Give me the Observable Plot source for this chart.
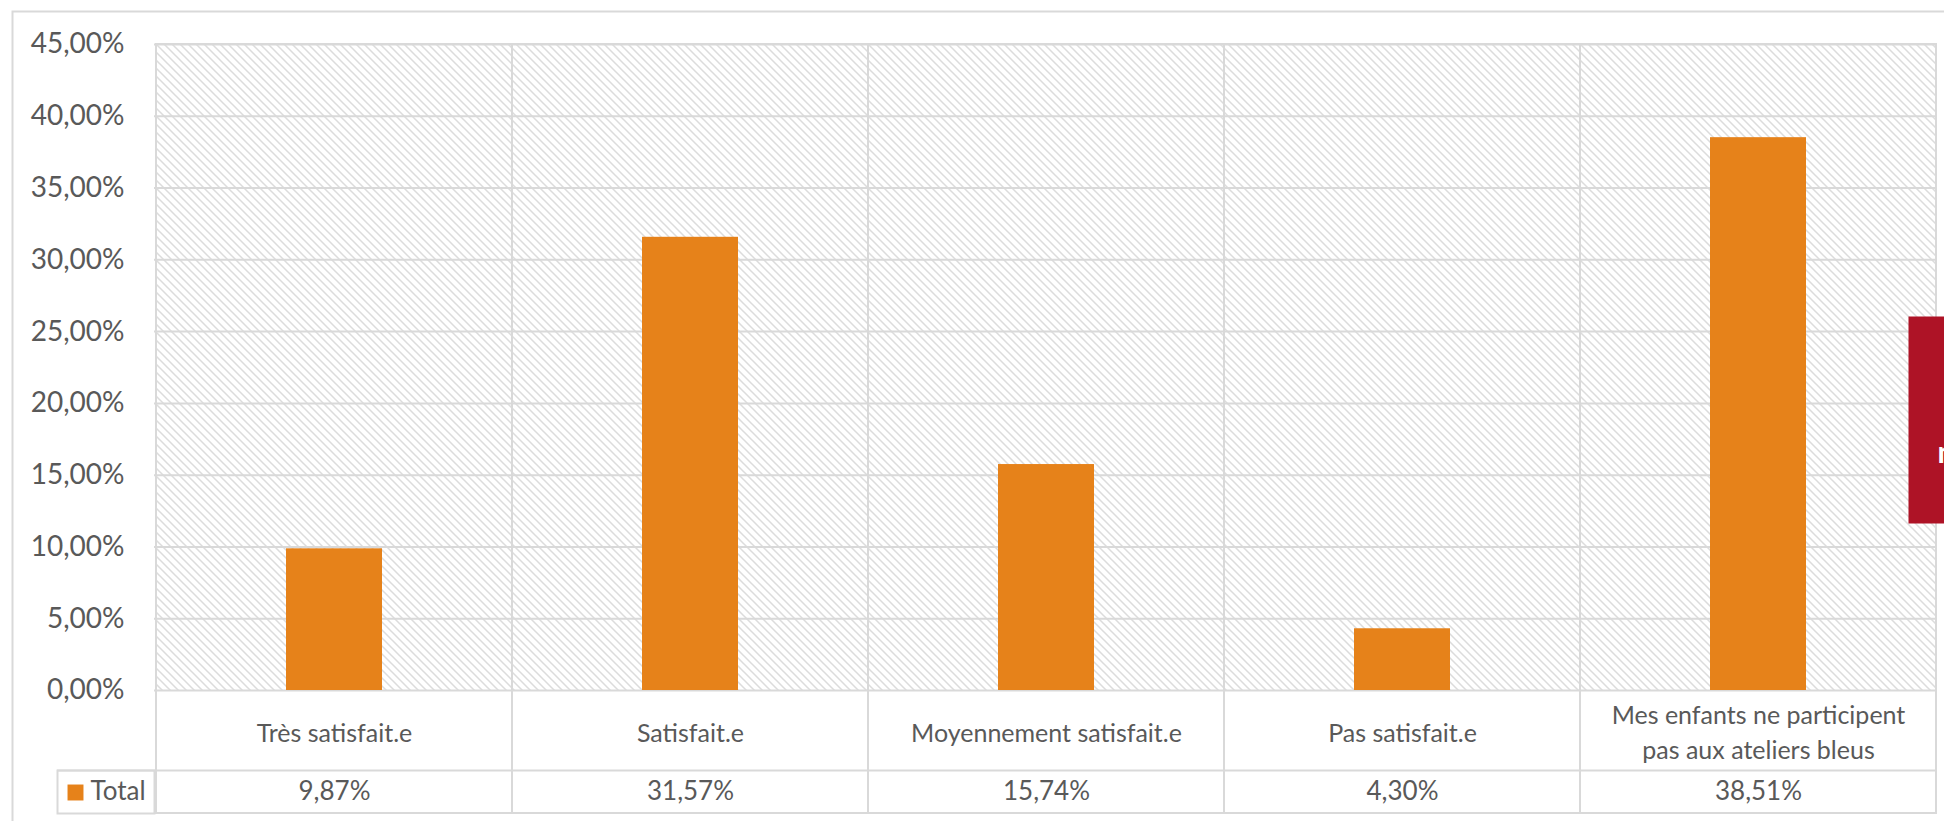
<!DOCTYPE html>
<html>
<head>
<meta charset="utf-8">
<script src="https://cdn.jsdelivr.net/npm/d3@7"></script>
<script src="https://cdn.jsdelivr.net/npm/@observablehq/plot@0.6"></script>
<style>
  html, body { margin: 0; padding: 0; background: #fff; }
  svg { display: block; }
</style>
</head>
<body>
<div id="chart"></div>
<script>
const categories = [
  "Très satisfait.e",
  "Satisfait.e",
  "Moyennement satisfait.e",
  "Pas satisfait.e",
  "Mes enfants ne participent\npas aux ateliers bleus"
];
const totals = [0.0987, 0.3157, 0.1574, 0.0430, 0.3851];
const yTicks = [0, 0.05, 0.10, 0.15, 0.20, 0.25, 0.30, 0.35, 0.40, 0.45];
const seriesName = "Total";

const data = categories.map((c, i) => ({cat: c, value: totals[i]}));
const pct = v => d3.format(".2f")(v * 100).replace(".", ",") + "%";

const W = 1944, H = 821;
const mL = 154, mR = 7, mT = 44, mB = 131;
const grid = "#d9d9d9";
const orange = "#E6821A";
const textCol = "#595959";
const font = "Lato, 'Open Sans', sans-serif";

const chart = Plot.plot({
  width: W,
  height: H,
  marginLeft: mL,
  marginRight: mR,
  marginTop: mT,
  marginBottom: mB,
  style: {fontFamily: font, color: textCol, background: "#fff", overflow: "visible"},
  x: {type: "band", domain: categories, padding: 0, axis: null},
  y: {domain: [0, 0.45], axis: null},
  marks: [
    // outer chart border
    Plot.frame({stroke: grid, strokeWidth: 2, insetLeft: -142, insetTop: -33, insetRight: -30, insetBottom: -200}),
    // hatched plot background per category column
    Plot.barY(data, {x: "cat", y1: () => 0, y2: () => 0.45, fill: "url(#hatch)"}),
    // gridlines
    Plot.ruleY(yTicks, {stroke: grid, strokeWidth: 2}),
    // table rows: divider between labels and values
    Plot.ruleY([0], {stroke: grid, strokeWidth: 2, dy: 80, insetLeft: -97}),
    // column cells extended through the data table
    Plot.barY(data, {x: "cat", y1: () => 0, y2: () => 0.45, fill: "none", stroke: grid, strokeWidth: 2, insetBottom: -123}),
    // legend cell
    Plot.frame({stroke: grid, strokeWidth: 2, insetLeft: -97, insetRight: W - mL - mR, insetTop: 770 - mT, insetBottom: -123}),
    // bars
    Plot.barY(data, {x: "cat", y: "value", fill: orange, insetLeft: 130, insetRight: 130}),
    // y axis labels
    Plot.axisY(yTicks, {tickFormat: pct, tickSize: 0, tickPadding: 30, fontSize: 28, label: null}),
    // category labels
    Plot.text(data, {x: "cat", text: "cat", frameAnchor: "bottom", lineAnchor: "middle", dy: 40, fontSize: 25, lineHeight: 1.4, fill: textCol}),
    // values row
    Plot.text(data, {x: "cat", text: d => pct(d.value), frameAnchor: "bottom", lineAnchor: "middle", dy: 101, fontSize: 26, fill: textCol}),
    // legend swatch + name
    Plot.dot([seriesName], {frameAnchor: "bottom-left", dx: -79, dy: 102, symbol: "square", r: 9, fill: orange, stroke: "none"}),
    Plot.text([seriesName], {frameAnchor: "bottom-left", lineAnchor: "middle", dx: -64, dy: 101, textAnchor: "start", fontSize: 26, fill: textCol}),
    // red overlapping box at the right edge
    Plot.frame({fill: "#AE1326", stroke: "none", insetLeft: 1754, insetRight: -20, insetTop: 272, insetBottom: 167}),
    Plot.text(["n"], {frameAnchor: "top-right", lineAnchor: "middle", dx: 0, dy: 409, textAnchor: "start", fill: "#fff", fontWeight: "bold", fontSize: 30})
  ]
});

// hatch pattern definition
const ns = "http://www.w3.org/2000/svg";
const defs = document.createElementNS(ns, "defs");
defs.innerHTML = `<pattern id="hatch" patternUnits="userSpaceOnUse" width="8" height="8">
  <rect width="8" height="8" fill="#ffffff"/>
  <path d="M-2,-2 L10,10 M-2,6 L2,10 M6,-2 L10,2" stroke="#dcdcdc" stroke-width="1.5"/>
</pattern>`;
chart.insertBefore(defs, chart.firstChild);

document.getElementById("chart").appendChild(chart);
</script>
</body>
</html>
